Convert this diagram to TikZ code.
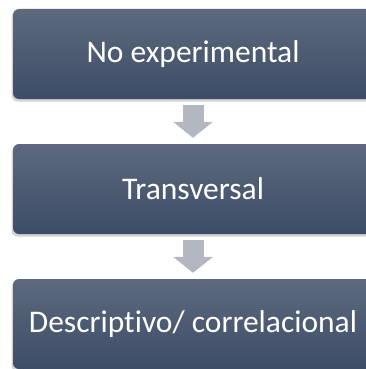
\documentclass[tikz,border=0pt]{standalone}
\usepackage{fontspec}
\setmainfont[Ligatures=NoCommon]{Carlito}
\usepackage{tikz}
\usetikzlibrary{arrows.meta,shadows}

\definecolor{boxtop}{HTML}{5D6A7D}
\definecolor{boxbottom}{HTML}{3D4C67}
\definecolor{arrowgray}{HTML}{B2B7C1}

\tikzset{
  etapa/.style={rectangle, rounded corners=6pt, minimum width=360pt, minimum height=90pt,
    top color=boxtop, bottom color=boxbottom, text=white, inner sep=0pt,
    font=\fontsize{31.5}{36}\selectfont,
    drop shadow={opacity=0.35, shadow xshift=-1.5pt, shadow yshift=-2.5pt}},
  flecha/.style={draw=arrowgray, line width=21pt, -{Triangle[width=39pt,length=16pt]}}
}

\begin{document}
\begin{tikzpicture}
   \useasboundingbox (0,0) rectangle (365pt,-369pt);

   % draw boxes
   \node[etapa] (noexp) at (193pt,-54pt) {No experimental};
   \node[etapa] (transv) at (193pt,-189pt) {Transversal};
   \node[etapa] (descr) at (193pt,-324pt) {Descriptivo/ correlacional};

   % draw arrows
   \draw[flecha] ([yshift=-6pt]noexp.south) -- ([yshift=6pt]transv.north);
   \draw[flecha] ([yshift=-6pt]transv.south) -- ([yshift=6pt]descr.north);
\end{tikzpicture}
\end{document}
